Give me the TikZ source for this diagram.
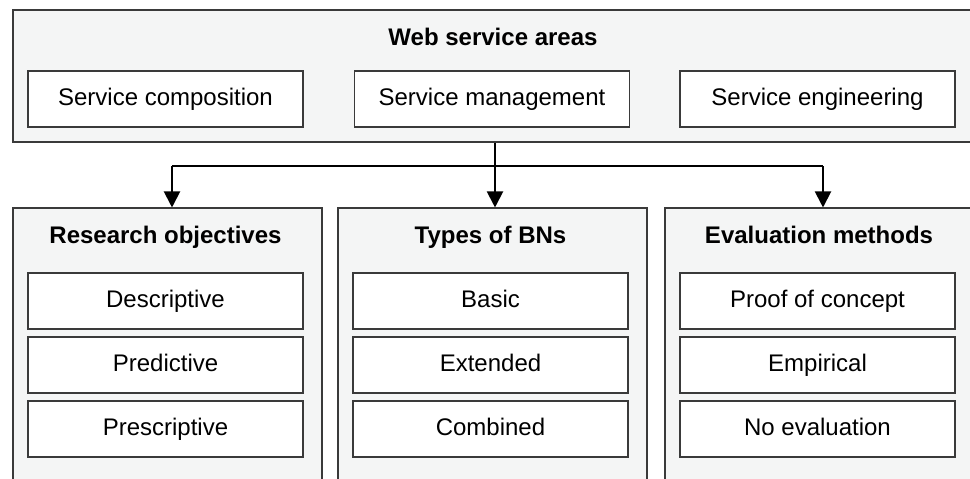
\documentclass[tikz,border=0pt]{standalone}
\usepackage{fontspec}
\setmainfont{Liberation Sans}
\usetikzlibrary{fit,arrows.meta}
\definecolor{panelfill}{HTML}{F4F5F5}
\definecolor{edge}{HTML}{3A3A3A}
\begin{document}
\begin{tikzpicture}[x=0.75pt,y=-0.75pt,
  panel/.style={draw=edge,line width=0.8pt,fill=panelfill,inner sep=0pt},
  item/.style={draw=edge,line width=0.8pt,fill=white,minimum width=206.25pt,minimum height=42pt,inner sep=0pt,
    text height=12.9pt,text depth=3pt,font=\fontsize{18}{20}\selectfont},
  head/.style={font=\fontsize{18}{20}\selectfont\bfseries,inner sep=0pt,text height=12.9pt,text depth=0pt},
  conn/.style={line width=1.5pt,black},
  arr/.style={conn,-{Triangle[width=12pt,length=12pt]}}]
\useasboundingbox (0,0) rectangle (970,478);
\clip (0,0) rectangle (970,478);

% web service areas
\node[panel,fit={(13,10) (995,142)}] (areas) {};
\node[head] (areastitle) at (493,36.5) {Web service areas};
\node[item] (comp) at (165.5,99) {Service composition};
\node[item] (mgmt) at (492,99) {Service management};
\node[item] (eng) at (817.5,99) {Service engineering};

% three classification panels
\node[panel,fit={(13,208) (322,500)}] (obj) {};
\node[panel,fit={(338,208) (647,500)}] (types) {};
\node[panel,fit={(665,208) (995,500)}] (eval) {};

\node[head] (objtitle) at (165.5,234.5) {Research objectives};
\node[head] (typestitle) at (490.5,234.5) {Types of BNs};
\node[head] (evaltitle) at (819,234.5) {Evaluation methods};

\node[item] (desc) at (165.5,301) {Descriptive};
\node[item] (pred) at (165.5,365) {Predictive};
\node[item] (presc) at (165.5,429) {Prescriptive};

\node[item] (basic) at (490.5,301) {Basic};
\node[item] (ext) at (490.5,365) {Extended};
\node[item] (comb) at (490.5,429) {Combined};

\node[item] (proof) at (817.5,301) {Proof of concept};
\node[item] (emp) at (817.5,365) {Empirical};
\node[item] (noeval) at (817.5,429) {No evaluation};

% connectors
\coordinate (hub) at (495,166);
\coordinate (jl) at (172,166);
\coordinate (jr) at (823,166);
\draw[conn] (jl) -- (jr);
\draw[arr] (areas.south -| hub) -- (types.north -| hub);
\draw[arr] (jl) -- (obj.north -| jl);
\draw[arr] (jr) -- (eval.north -| jr);
\end{tikzpicture}
\end{document}
